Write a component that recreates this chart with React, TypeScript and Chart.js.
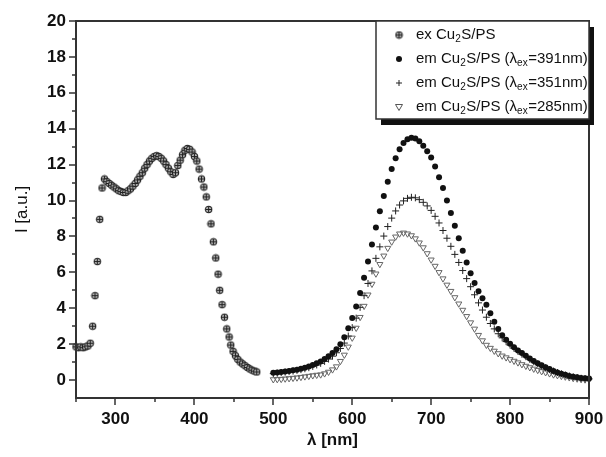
import React, { useEffect, useRef } from 'react';
import { Chart, registerables } from 'chart.js';
Chart.register(...registerables);

// ---- Data ----
const exWavelengths = [250,253,256,259,262,265,268,271,274,277,280,283,286,289,292,295,298,301,304,307,310,313,316,319,322,325,328,331,334,337,340,343,346,349,352,355,358,361,364,367,370,373,376,379,382,385,388,391,394,397,400,403,406,409,412,415,418,421,424,427,430,432,435,438,441,444,446,449,452,455,458,461,464,467,470,473,476,479];
const exIntensity = [1.85,1.80,1.85,1.80,1.85,1.90,2.05,3.0,4.7,6.6,8.95,10.7,11.2,11.05,10.95,10.85,10.75,10.65,10.55,10.5,10.45,10.45,10.55,10.65,10.8,10.95,11.15,11.35,11.55,11.8,12.0,12.2,12.35,12.45,12.5,12.45,12.35,12.2,12.0,11.8,11.6,11.45,11.55,11.95,12.25,12.55,12.8,12.9,12.85,12.7,12.45,12.2,11.75,11.2,10.75,10.2,9.5,8.7,7.7,6.8,5.9,5.0,4.2,3.5,2.85,2.4,1.95,1.6,1.35,1.15,1.0,0.9,0.8,0.7,0.62,0.55,0.5,0.45];

const emWavelengths = [500,505,510,515,520,525,530,535,540,545,550,555,560,565,570,575,580,585,590,595,600,605,610,615,620,625,630,635,640,645,650,655,660,665,670,675,680,685,690,695,700,705,710,715,720,725,730,735,740,745,750,755,760,765,770,775,780,785,790,795,800,805,810,815,820,825,830,835,840,845,850,855,860,865,870,875,880,885,890,895,900];
const em391 = [0.40,0.42,0.45,0.48,0.51,0.54,0.58,0.63,0.69,0.76,0.84,0.93,1.04,1.17,1.32,1.50,1.72,2.00,2.38,2.88,3.45,4.10,4.85,5.70,6.60,7.55,8.50,9.40,10.25,11.05,11.75,12.35,12.85,13.20,13.42,13.50,13.45,13.30,13.05,12.75,12.40,11.90,11.30,10.70,10.00,9.30,8.60,7.90,7.20,6.55,5.95,5.40,4.95,4.55,4.20,3.72,3.25,2.85,2.50,2.25,2.02,1.83,1.65,1.50,1.35,1.20,1.06,0.93,0.82,0.71,0.61,0.51,0.42,0.35,0.29,0.23,0.18,0.15,0.12,0.10,0.09];
const em351 = [0.36,0.38,0.41,0.44,0.47,0.50,0.54,0.58,0.63,0.69,0.76,0.84,0.93,1.04,1.17,1.33,1.52,1.76,2.06,2.45,2.92,3.45,4.05,4.70,5.38,6.08,6.78,7.42,8.02,8.55,9.02,9.42,9.75,9.98,10.12,10.18,10.15,10.05,9.90,9.70,9.45,9.12,8.75,8.33,7.90,7.45,7.00,6.55,6.10,5.65,5.20,4.75,4.30,3.90,3.50,3.15,2.85,2.58,2.35,2.14,1.95,1.77,1.60,1.44,1.30,1.15,1.02,0.90,0.78,0.68,0.58,0.50,0.42,0.35,0.28,0.23,0.18,0.14,0.10,0.08,0.06];
const em285 = [0.03,0.04,0.05,0.07,0.09,0.11,0.13,0.16,0.19,0.22,0.25,0.28,0.30,0.36,0.45,0.58,0.75,1.05,1.40,1.85,2.35,2.90,3.50,4.12,4.75,5.35,5.92,6.45,6.92,7.35,7.70,7.98,8.15,8.20,8.15,8.05,7.88,7.65,7.38,7.05,6.70,6.35,6.00,5.65,5.30,4.95,4.60,4.25,3.90,3.55,3.20,2.85,2.50,2.20,1.95,1.78,1.62,1.48,1.35,1.25,1.15,1.06,0.97,0.87,0.78,0.70,0.62,0.55,0.48,0.42,0.36,0.30,0.26,0.22,0.18,0.14,0.10,0.07,0.04,0.02,0.01];

const xMajorTicks = [300, 400, 500, 600, 700, 800, 900];
const xMinorTicks = [250, 350, 450, 550, 650, 750, 850];
const yMajorTicks = [0, 2, 4, 6, 8, 10, 12, 14, 16, 18, 20];
const yMinorTicks = [1, 3, 5, 7, 9, 11, 13, 15, 17, 19];

const xTitle = 'λ [nm]';
const yTitle = 'I [a.u.]';

type Part = [string, boolean];
const legendEntries: Part[][] = [
  [['ex Cu', false], ['2', true], ['S/PS', false]],
  [['em Cu', false], ['2', true], ['S/PS (λ', false], ['ex', true], ['=391nm)', false]],
  [['em Cu', false], ['2', true], ['S/PS (λ', false], ['ex', true], ['=351nm)', false]],
  [['em Cu', false], ['2', true], ['S/PS (λ', false], ['ex', true], ['=285nm)', false]],
];

const FONT = "'Liberation Sans', Arial, sans-serif";

function makeExMarker(): HTMLCanvasElement {
  const c = document.createElement('canvas');
  c.width = 9; c.height = 9;
  const g = c.getContext('2d')!;
  g.beginPath(); g.arc(4.5, 4.5, 3.2, 0, Math.PI * 2);
  g.fillStyle = '#b8b8b8'; g.fill();
  g.strokeStyle = '#222'; g.lineWidth = 1.1; g.stroke();
  g.beginPath(); g.moveTo(1, 4.5); g.lineTo(8, 4.5); g.moveTo(4.5, 1.5); g.lineTo(4.5, 7.5); g.stroke();
  return c;
}

function drawRich(ctx: CanvasRenderingContext2D, x: number, y: number, parts: Part[]) {
  let cx = x;
  for (const [t, sub] of parts) {
    ctx.font = sub ? `10px ${FONT}` : `15px ${FONT}`;
    ctx.fillText(t, cx, sub ? y + 4 : y);
    cx += ctx.measureText(t).width + (sub ? 0.5 : 0);
  }
}

export default function App() {
  const ref = useRef<HTMLCanvasElement | null>(null);
  useEffect(() => {
    if (!ref.current) return;
    const exMarker = makeExMarker();
    const overlay = {
      id: 'overlay',
      beforeDraw(chart: any) {
        const ctx = chart.ctx;
        ctx.save(); ctx.fillStyle = '#fff'; ctx.fillRect(0, 0, chart.width, chart.height); ctx.restore();
      },
      afterDraw(chart: any) {
        const ctx: CanvasRenderingContext2D = chart.ctx;
        const a = chart.chartArea;
        const xs = chart.scales.x, ys = chart.scales.y;
        ctx.save();
        ctx.strokeStyle = '#333';
        ctx.lineWidth = 2;
        ctx.strokeRect(a.left, a.top, a.right - a.left, a.bottom - a.top);
        ctx.lineWidth = 1.5;
        ctx.beginPath();
        for (const v of xMajorTicks) { const p = Math.round(xs.getPixelForValue(v)); ctx.moveTo(p, a.bottom); ctx.lineTo(p, a.bottom + 7); }
        for (const v of xMinorTicks) { const p = Math.round(xs.getPixelForValue(v)); ctx.moveTo(p, a.bottom); ctx.lineTo(p, a.bottom + 4); }
        for (const v of yMajorTicks) { const p = Math.round(ys.getPixelForValue(v)); ctx.moveTo(a.left, p); ctx.lineTo(a.left - 7, p); }
        for (const v of yMinorTicks) { const p = Math.round(ys.getPixelForValue(v)); ctx.moveTo(a.left, p); ctx.lineTo(a.left - 4, p); }
        ctx.stroke();

        // axis titles
        ctx.fillStyle = '#111';
        ctx.textAlign = 'center'; ctx.textBaseline = 'middle';
        ctx.font = `bold 17px ${FONT}`;
        ctx.fillText(xTitle, (a.left + a.right) / 2, 440);
        ctx.save();
        ctx.translate(22, (a.top + a.bottom) / 2);
        ctx.rotate(-Math.PI / 2);
        ctx.font = `17px ${FONT}`;
        ctx.fillText(yTitle, 0, 0);
        ctx.restore();

        // legend
        const bx = 376, by = a.top, bw = a.right - 376, bh = 98;
        ctx.fillStyle = '#111';
        ctx.fillRect(bx + 5, by + 6, bw, bh);
        ctx.fillStyle = '#fff';
        ctx.fillRect(bx, by, bw, bh);
        ctx.strokeStyle = '#333'; ctx.lineWidth = 1.5;
        ctx.strokeRect(bx, by, bw, bh);
        const rowsY = [35, 59, 83, 107];
        const mx = 399;
        ctx.drawImage(exMarker, mx - 4.5, rowsY[0] - 4.5);
        ctx.beginPath(); ctx.arc(mx, rowsY[1], 3, 0, Math.PI * 2); ctx.fillStyle = '#111'; ctx.fill();
        ctx.strokeStyle = '#222'; ctx.lineWidth = 1;
        ctx.beginPath(); ctx.moveTo(mx - 3, rowsY[2]); ctx.lineTo(mx + 3, rowsY[2]); ctx.moveTo(mx, rowsY[2] - 3); ctx.lineTo(mx, rowsY[2] + 3); ctx.stroke();
        ctx.strokeStyle = '#555';
        ctx.beginPath(); ctx.moveTo(mx - 3.5, rowsY[3] - 2.5); ctx.lineTo(mx + 3.5, rowsY[3] - 2.5); ctx.lineTo(mx, rowsY[3] + 3.5); ctx.closePath(); ctx.stroke();
        ctx.fillStyle = '#111';
        ctx.textAlign = 'left'; ctx.textBaseline = 'middle';
        legendEntries.forEach((parts, i) => drawRich(ctx, 416, rowsY[i], parts));
        ctx.restore();
      },
    };

    const chart = new Chart(ref.current, {
      type: 'scatter',
      data: {
        datasets: [
          {
            label: 'ex',
            data: exWavelengths.map((x, i) => ({ x, y: exIntensity[i] })),
            pointStyle: exMarker as any,
            clip: false as any,
          },
          {
            label: 'em391',
            data: emWavelengths.map((x, i) => ({ x, y: em391[i] })),
            pointStyle: 'circle',
            pointRadius: 3,
            backgroundColor: '#111',
            borderColor: '#111',
            borderWidth: 0,
            clip: false as any,
          },
          {
            label: 'em351',
            data: emWavelengths.map((x, i) => ({ x, y: em351[i] })),
            pointStyle: 'cross',
            pointRadius: 3.5,
            borderColor: '#222',
            borderWidth: 1,
            clip: false as any,
          },
          {
            label: 'em285',
            data: emWavelengths.map((x, i) => ({ x, y: em285[i] })),
            pointStyle: 'triangle',
            rotation: 180,
            pointRadius: 3.5,
            borderColor: '#666',
            backgroundColor: 'rgba(255,255,255,0)',
            borderWidth: 1,
            clip: false as any,
          },
        ],
      },
      options: {
        animation: false,
        responsive: true,
        maintainAspectRatio: false,
        layout: { padding: { top: 21, right: 17, left: 0, bottom: 0 } },
        plugins: { legend: { display: false }, tooltip: { enabled: false } },
        scales: {
          x: {
            type: 'linear',
            min: 250,
            max: 900,
            afterBuildTicks: (s: any) => { s.ticks = xMajorTicks.map((v) => ({ value: v })); },
            afterFit: (s: any) => { s.height = 59; s.paddingRight = 0; s.paddingLeft = 0; },
            grid: { display: false, drawTicks: false },
            border: { display: false },
            ticks: { padding: 11, color: '#111', font: { family: FONT, size: 17, weight: 'bold' } },
          },
          y: {
            type: 'linear',
            min: -1,
            max: 20,
            afterBuildTicks: (s: any) => { s.ticks = yMajorTicks.map((v) => ({ value: v })); },
            afterFit: (s: any) => { s.width = 76; s.paddingTop = 0; s.paddingBottom = 0; },
            grid: { display: false, drawTicks: false },
            border: { display: false },
            ticks: { padding: 10, color: '#111', font: { family: FONT, size: 17, weight: 'bold' } },
          },
        },
      },
      plugins: [overlay],
    });
    return () => chart.destroy();
  }, []);
  return (
    <div style={{ position: 'absolute', left: 0, top: 0, width: 606, height: 457 }}>
      <canvas ref={ref} />
    </div>
  );
}
